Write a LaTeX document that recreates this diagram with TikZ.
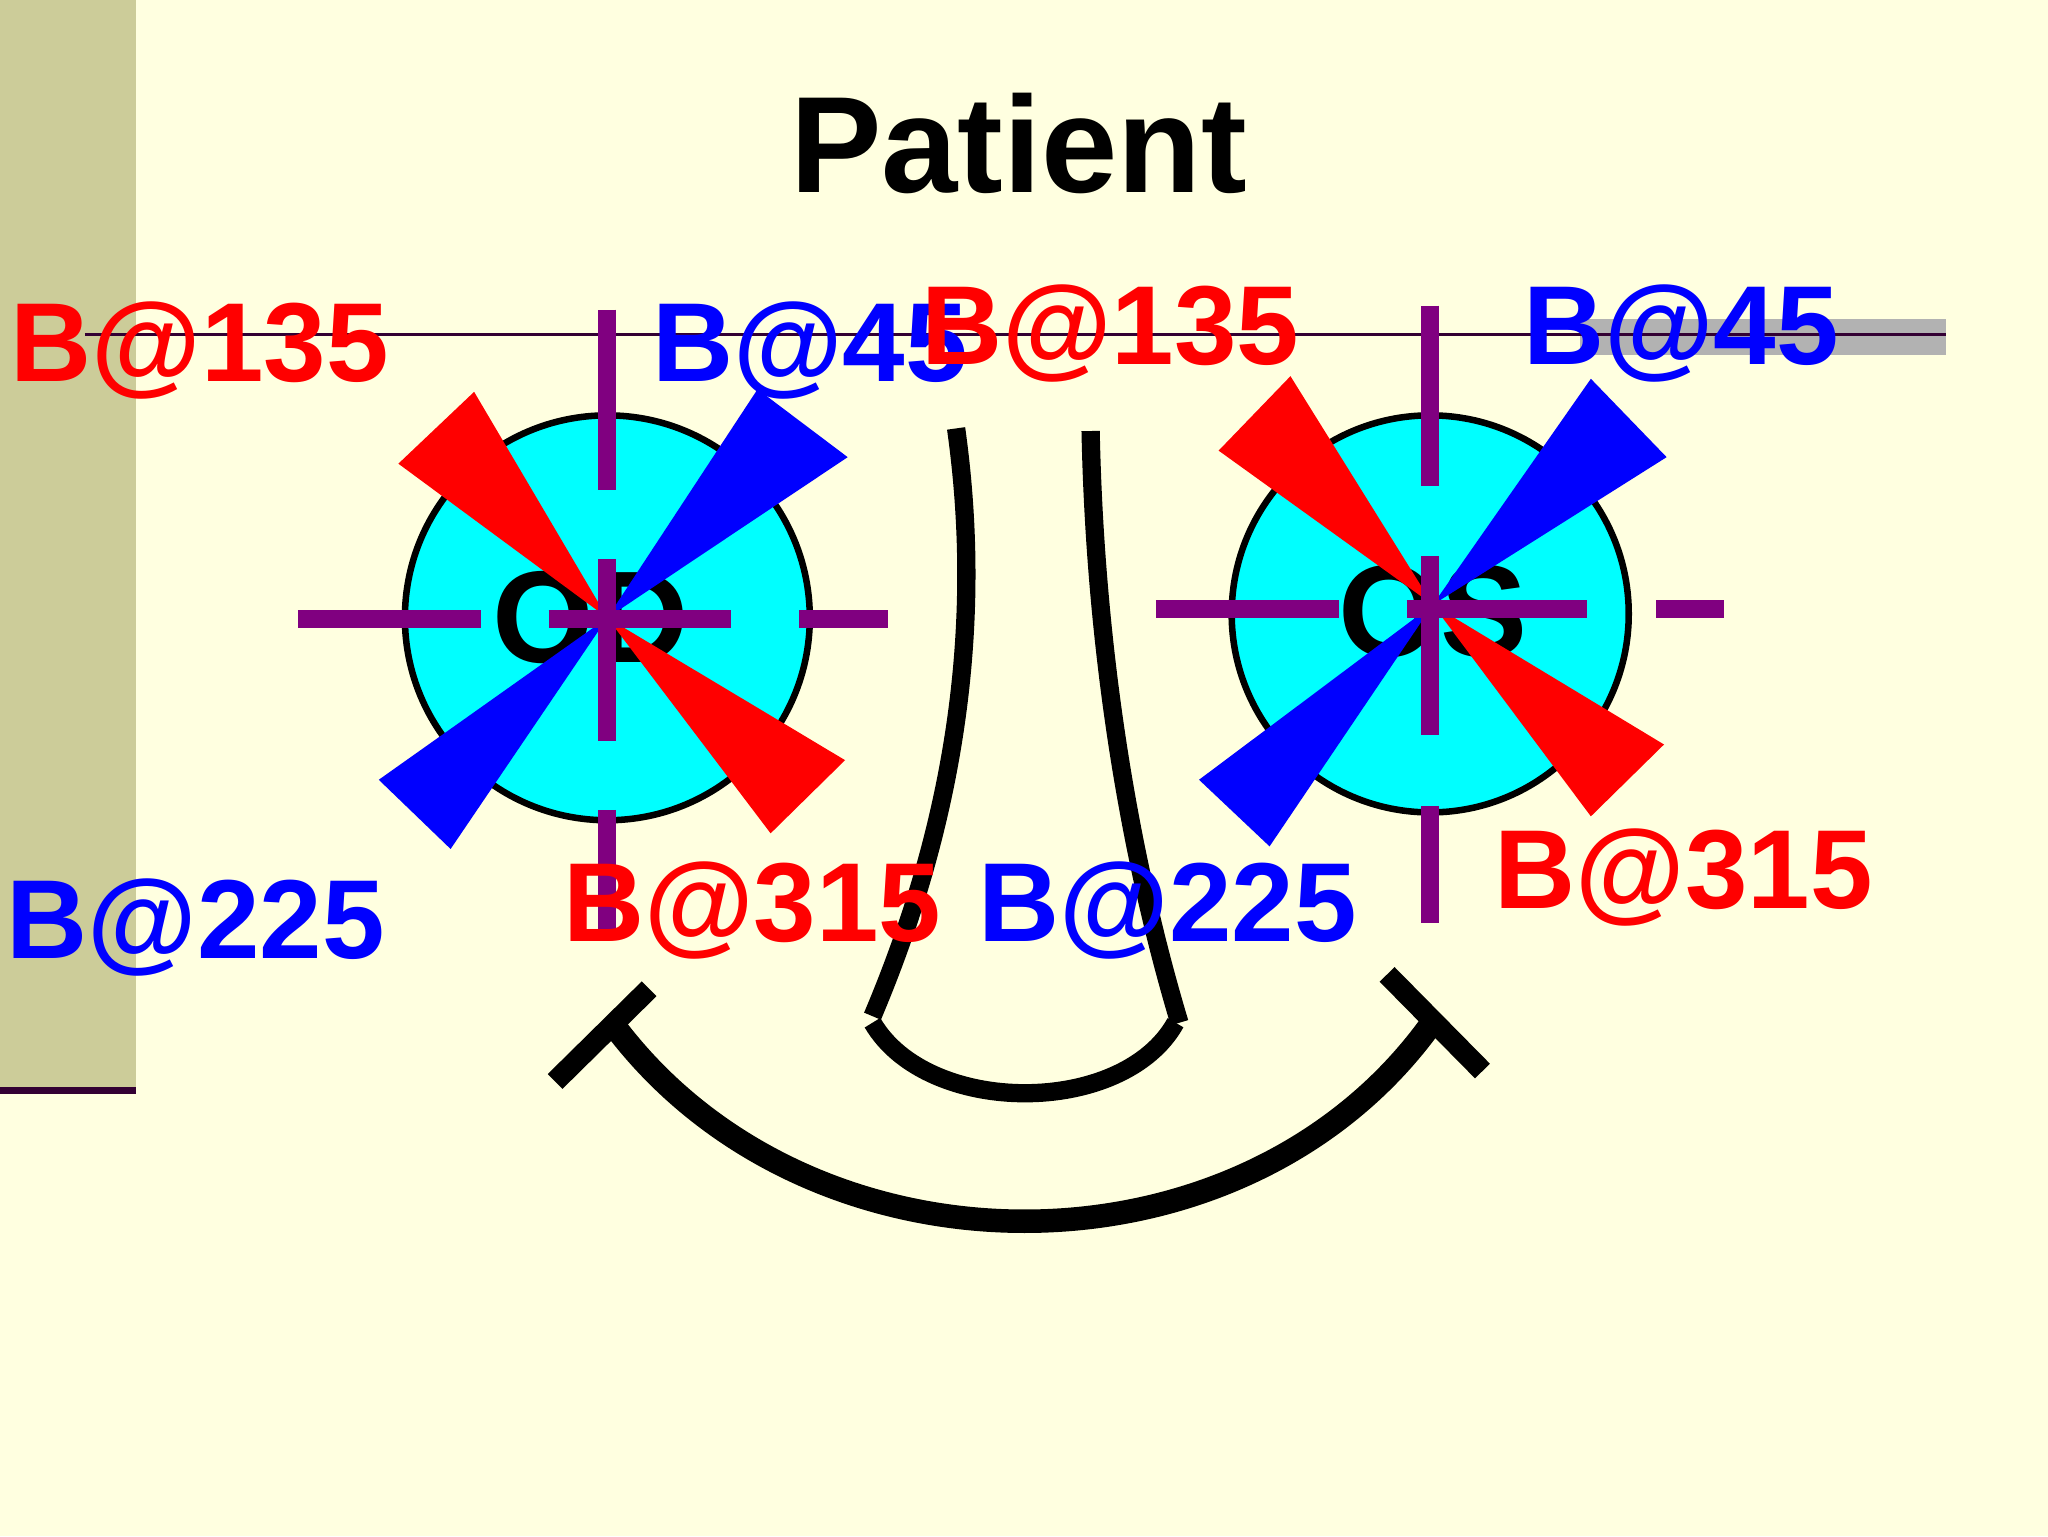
\documentclass[tikz,border=0pt]{standalone}
\usepackage{fontspec}
\setmainfont{Liberation Sans}
\definecolor{bg}{RGB}{255,255,224}
\definecolor{bar}{RGB}{204,204,153}
\definecolor{pur}{RGB}{128,0,128}
\definecolor{dpur}{RGB}{51,0,51}
\definecolor{cy}{RGB}{0,255,255}
\definecolor{rd}{RGB}{255,0,0}
\definecolor{bl}{RGB}{0,0,255}
\begin{document}
\begin{tikzpicture}[x=1pt,y=-1pt,
  lab/.style={font=\fontsize{86}{90}\selectfont\bfseries,inner sep=0pt,anchor=center},
  crs/.style={pur,line width=14pt},
  eye/.style={draw=black,fill=cy,line width=5pt},
  face/.style={black,line width=14pt}]
\fill[bg] (0,0) rectangle (1568,1176);
\useasboundingbox (0,0) rectangle (1568,1176);
\fill[bar] (0,0) rectangle (104,835);
\draw[dpur,line width=5pt] (0,835) -- (104,835);
\fill[black!30] (1210,244) rectangle (1490,272);
\draw[dpur,line width=2pt] (65,256) -- (1490,256);
\node[font=\fontsize{105}{110}\selectfont\bfseries] (title) at (780,110) {Patient};
% eyes
\draw[eye] (465,473) circle (155);
\draw[eye] (1095,470) circle (152);
\node[font=\fontsize{100}{100}\selectfont\bfseries] (od) at (452,473) {OD};
\node[font=\fontsize{100}{100}\selectfont\bfseries] (os) at (1097,468) {OS};
% wedges OD
\fill[rd] (465,473) -- (305,355) -- (363,300) -- cycle;
\fill[rd] (465,473) -- (590,638) -- (647,582) -- cycle;
\fill[bl] (465,473) -- (580,298) -- (649,350) -- cycle;
\fill[bl] (465,473) -- (290,597) -- (345,650) -- cycle;
% wedges OS
\fill[rd] (1097,463) -- (933,345) -- (988,288) -- cycle;
\fill[rd] (1097,463) -- (1218,625) -- (1274,570) -- cycle;
\fill[bl] (1097,463) -- (1218,290) -- (1276,350) -- cycle;
\fill[bl] (1097,463) -- (918,597) -- (972,648) -- cycle;
% crosses
\draw[crs] (465,237) -- (465,375) (465,428) -- (465,567) (465,620) -- (465,715);
\draw[crs] (228,474) -- (368,474) (420,474) -- (560,474) (612,474) -- (680,474);
\draw[crs] (1095,234) -- (1095,372) (1095,426) -- (1095,563) (1095,617) -- (1095,707);
\draw[crs] (885,466) -- (1025,466) (1077,466) -- (1215,466) (1268,466) -- (1320,466);
% nose
\draw[face] (732,328) .. controls (752,470) and (735,620) .. (668,778);
\draw[face] (835,330) .. controls (838,480) and (860,640) .. (903,783);
\draw[face] (668,783) .. controls (710,855) and (860,855) .. (900,783);
% smile
\draw[black,line width=18pt] (470,785) .. controls (620,985) and (950,985) .. (1095,785);
\draw[black,line width=16pt] (425,828) -- (497,757);
\draw[black,line width=16pt] (1062,746) -- (1135,820);
% labels
\node[lab,rd] (l1) at (153,268) {B@135};
\node[lab,bl] (l2) at (620,268) {B@45};
\node[lab,rd] (l3) at (850,255) {B@135};
\node[lab,bl] (l4) at (1287,255) {B@45};
\node[lab,bl] (l5) at (150,710) {B@225};
\node[lab,rd] (l6) at (576,697) {B@315};
\node[lab,bl] (l7) at (894,697) {B@225};
\node[lab,rd] (l8) at (1289,672) {B@315};
\end{tikzpicture}
\end{document}
